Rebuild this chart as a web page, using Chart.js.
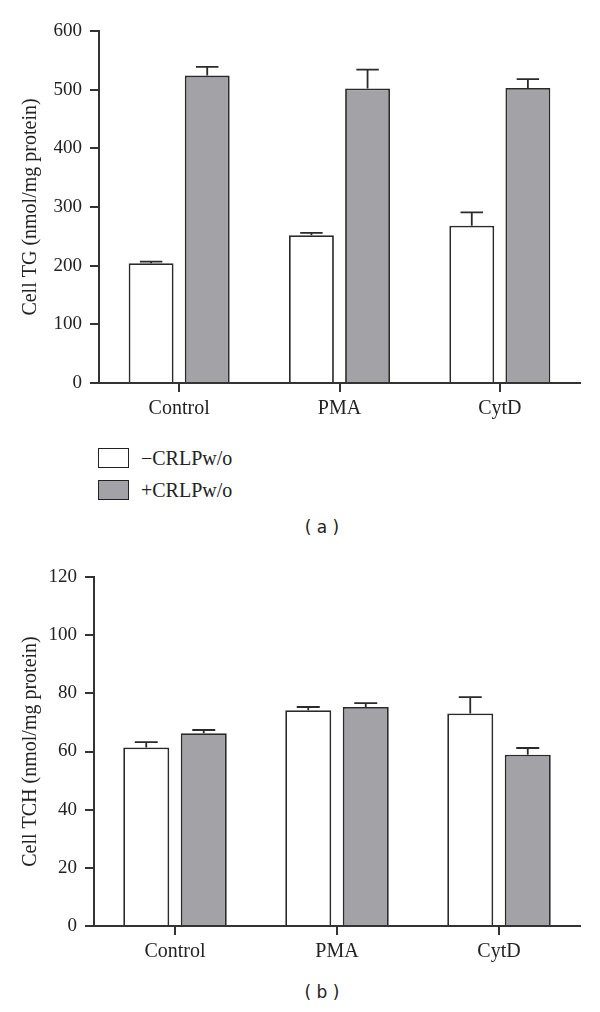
<!DOCTYPE html>
<html>
<head>
<meta charset="utf-8">
<script src="https://cdn.jsdelivr.net/npm/chart.js@4/dist/chart.umd.min.js"></script>
<style>
  body { margin: 0; background: #fff; width: 600px; height: 1012px; position: relative; overflow: hidden; font-family: "Liberation Serif", serif; color: #222; }
  canvas { position: absolute; left: 0; }
  #chartA { top: 0; }
  #chartB { top: 540px; }
  .legend { position: absolute; left: 98px; top: 442px; font-size: 20px; }
  .legend .item { height: 32px; display: flex; align-items: center; }
  .legend .sw { width: 29px; height: 18px; border: 1.5px solid #222; margin-right: 12px; }
  .cap { position: absolute; left: 272px; width: 100px; text-align: center; font-family: "DejaVu Sans", sans-serif; font-size: 17px; }
</style>
</head>
<body>
<canvas id="chartA" width="600" height="430"></canvas>
<div class="legend" id="legendA"></div>
<div class="cap" style="top:517px">( a )</div>
<canvas id="chartB" width="600" height="430"></canvas>
<div class="cap" style="top:982px">( b )</div>

<script>
// ---- data ----
const categories = ['Control', 'PMA', 'CytD'];
const seriesNames = ['\u2212CRLPw/o', '+CRLPw/o'];

// (a) cell TG
const tgMinus    = [204, 252, 268];
const tgMinusErr = [3, 4, 23];
const tgPlus     = [524, 502, 503];
const tgPlusErr  = [15, 32, 15];

// (b) cell TCH
const tchMinus    = [61.4, 74.2, 73.1];
const tchMinusErr = [1.8, 1.1, 5.6];
const tchPlus     = [66.3, 75.3, 58.9];
const tchPlusErr  = [1.1, 1.3, 2.3];

const fills = ['#ffffff', '#a3a2a6'];
const ink = '#2a2a2a';
const serif = '"Liberation Serif", "Times New Roman", serif';

// draws the upper error whisker for each bar
const errorBars = {
  id: 'errorBars',
  afterDatasetsDraw(chart) {
    const ctx = chart.ctx;
    const y = chart.scales.y;
    chart.data.datasets.forEach((ds, i) => {
      const meta = chart.getDatasetMeta(i);
      meta.data.forEach((bar, j) => {
        const top = y.getPixelForValue(ds.data[j] + ds.errors[j]);
        const half = bar.width / 4;
        ctx.save();
        ctx.strokeStyle = ink;
        ctx.lineWidth = 1.8;
        ctx.beginPath();
        ctx.moveTo(bar.x, bar.y);
        ctx.lineTo(bar.x, top);
        ctx.moveTo(bar.x - half, top);
        ctx.lineTo(bar.x + half, top);
        ctx.stroke();
        ctx.restore();
      });
    });
  }
};

function makeDataset(i, values, errs, catPct) {
  return {
    label: seriesNames[i],
    data: values,
    errors: errs,
    backgroundColor: fills[i],
    borderColor: ink,
    borderWidth: 1.8,
    categoryPercentage: catPct,
    barPercentage: 0.8
  };
}

function makeChart(id, cfg) {
  return new Chart(document.getElementById(id), {
    type: 'bar',
    data: {
      labels: categories,
      datasets: [
        makeDataset(0, cfg.minus, cfg.minusErr, cfg.catPct),
        makeDataset(1, cfg.plus, cfg.plusErr, cfg.catPct)
      ]
    },
    options: {
      responsive: false,
      animation: false,
      devicePixelRatio: 1,
      layout: { padding: { top: cfg.padTop, right: 20, left: 0, bottom: 0 } },
      plugins: { legend: { display: false }, tooltip: { enabled: false } },
      scales: {
        x: {
          afterFit: s => { s.height = cfg.xHeight; },
          grid: { display: true, offset: false, drawOnChartArea: false, tickLength: 9, tickColor: '#333', lineWidth: 2 },
          border: { display: true, color: '#333', width: 2 },
          ticks: { color: '#222', padding: 5, font: { family: serif, size: 20 } }
        },
        y: {
          min: 0,
          max: cfg.max,
          afterFit: s => { s.width = cfg.yWidth; },
          grid: { display: true, drawOnChartArea: false, tickLength: 9, tickColor: '#333', lineWidth: 2 },
          border: { display: true, color: '#333', width: 2 },
          ticks: { stepSize: cfg.step, color: '#222', padding: 8, font: { family: serif, size: 19 } },
          title: { display: true, text: cfg.title, color: '#222', padding: { top: 19, bottom: 0 }, font: { family: serif, size: 20 } }
        }
      }
    },
    plugins: [errorBars]
  });
}

makeChart('chartA', {
  minus: tgMinus, minusErr: tgMinusErr, plus: tgPlus, plusErr: tgPlusErr,
  max: 600, step: 100, title: 'Cell TG (nmol/mg protein)',
  padTop: 31, xHeight: 47, yWidth: 99, catPct: 0.7
});

makeChart('chartB', {
  minus: tchMinus, minusErr: tchMinusErr, plus: tchPlus, plusErr: tchPlusErr,
  max: 120, step: 20, title: 'Cell TCH (nmol/mg protein)',
  padTop: 37, xHeight: 44, yWidth: 94, catPct: 0.71
});

// html legend under chart (a)
const legend = document.getElementById('legendA');
seriesNames.forEach((name, i) => {
  const item = document.createElement('div');
  item.className = 'item';
  item.innerHTML = '<span class="sw" style="background:' + fills[i] + '"></span><span>' + name + '</span>';
  legend.appendChild(item);
});
</script>
</body>
</html>
